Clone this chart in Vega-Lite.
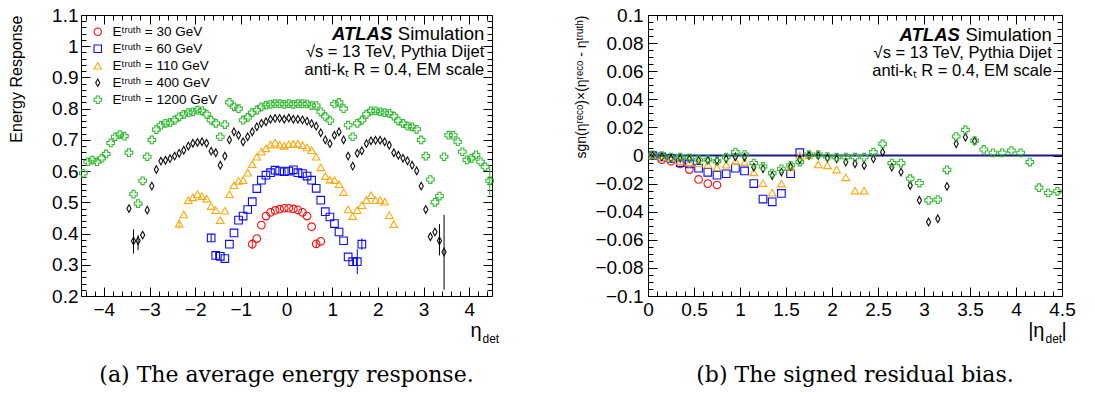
{
"$schema": "https://vega.github.io/schema/vega-lite/v6.json",
"background": "white",
"padding": {"left": 8, "top": 5, "right": 5, "bottom": 5},
"spacing": 74,
"config": {
  "view": {"stroke": "#000", "strokeWidth": 1},
  "font": "Liberation Sans",
  "axis": {"domain": false, "grid": false, "labelFont": "Liberation Sans", "labelFontSize": 19, "labelColor": "#000", "tickColor": "#000", "tickWidth": 1, "titleFont": "Liberation Sans", "titleFontWeight": "normal", "titleFontSize": 16, "titleColor": "#000", "labelFlush": false, "labelOverlap": false},
  "legend": {"labelFont": "Liberation Sans", "labelFontSize": 13.5, "labelColor": "#000"}
},
"datasets": {
"resp": [
{"E":"30 GeV","eta":-0.75,"r":0.366,"lo":0.350,"hi":0.382},
{"E":"30 GeV","eta":-0.65,"r":0.384},
{"E":"30 GeV","eta":-0.55,"r":0.427},
{"E":"30 GeV","eta":-0.45,"r":0.456},
{"E":"30 GeV","eta":-0.35,"r":0.468},
{"E":"30 GeV","eta":-0.25,"r":0.474},
{"E":"30 GeV","eta":-0.15,"r":0.478},
{"E":"30 GeV","eta":-0.05,"r":0.481},
{"E":"30 GeV","eta":0.05,"r":0.481},
{"E":"30 GeV","eta":0.15,"r":0.479},
{"E":"30 GeV","eta":0.25,"r":0.476},
{"E":"30 GeV","eta":0.35,"r":0.468},
{"E":"30 GeV","eta":0.45,"r":0.456},
{"E":"30 GeV","eta":0.55,"r":0.422},
{"E":"30 GeV","eta":0.65,"r":0.367,"lo":0.355,"hi":0.379},
{"E":"30 GeV","eta":0.75,"r":0.375},
{"E":"60 GeV","eta":-1.65,"r":0.386,"lo":0.374,"hi":0.398},
{"E":"60 GeV","eta":-1.55,"r":0.330,"lo":0.316,"hi":0.344},
{"E":"60 GeV","eta":-1.45,"r":0.327},
{"E":"60 GeV","eta":-1.35,"r":0.320},
{"E":"60 GeV","eta":-1.25,"r":0.366},
{"E":"60 GeV","eta":-1.15,"r":0.402},
{"E":"60 GeV","eta":-1.05,"r":0.443},
{"E":"60 GeV","eta":-0.95,"r":0.456},
{"E":"60 GeV","eta":-0.85,"r":0.477},
{"E":"60 GeV","eta":-0.75,"r":0.502},
{"E":"60 GeV","eta":-0.65,"r":0.544},
{"E":"60 GeV","eta":-0.55,"r":0.571},
{"E":"60 GeV","eta":-0.45,"r":0.587},
{"E":"60 GeV","eta":-0.35,"r":0.595},
{"E":"60 GeV","eta":-0.25,"r":0.603},
{"E":"60 GeV","eta":-0.15,"r":0.600},
{"E":"60 GeV","eta":-0.05,"r":0.598},
{"E":"60 GeV","eta":0.05,"r":0.600},
{"E":"60 GeV","eta":0.15,"r":0.604},
{"E":"60 GeV","eta":0.25,"r":0.595},
{"E":"60 GeV","eta":0.35,"r":0.592},
{"E":"60 GeV","eta":0.45,"r":0.584},
{"E":"60 GeV","eta":0.55,"r":0.571},
{"E":"60 GeV","eta":0.65,"r":0.545},
{"E":"60 GeV","eta":0.75,"r":0.507},
{"E":"60 GeV","eta":0.85,"r":0.470},
{"E":"60 GeV","eta":0.95,"r":0.453},
{"E":"60 GeV","eta":1.05,"r":0.432},
{"E":"60 GeV","eta":1.15,"r":0.405},
{"E":"60 GeV","eta":1.25,"r":0.377},
{"E":"60 GeV","eta":1.35,"r":0.325},
{"E":"60 GeV","eta":1.45,"r":0.310,"lo":0.298,"hi":0.322},
{"E":"60 GeV","eta":1.55,"r":0.310,"lo":0.270,"hi":0.350},
{"E":"60 GeV","eta":1.65,"r":0.366,"lo":0.348,"hi":0.384},
{"E":"110 GeV","eta":-2.35,"r":0.432,"lo":0.415,"hi":0.448},
{"E":"110 GeV","eta":-2.25,"r":0.461},
{"E":"110 GeV","eta":-2.15,"r":0.507},
{"E":"110 GeV","eta":-2.05,"r":0.516},
{"E":"110 GeV","eta":-1.95,"r":0.526},
{"E":"110 GeV","eta":-1.85,"r":0.520},
{"E":"110 GeV","eta":-1.75,"r":0.512},
{"E":"110 GeV","eta":-1.65,"r":0.488},
{"E":"110 GeV","eta":-1.55,"r":0.475},
{"E":"110 GeV","eta":-1.45,"r":0.443},
{"E":"110 GeV","eta":-1.35,"r":0.473},
{"E":"110 GeV","eta":-1.25,"r":0.526},
{"E":"110 GeV","eta":-1.15,"r":0.555},
{"E":"110 GeV","eta":-1.05,"r":0.569},
{"E":"110 GeV","eta":-0.95,"r":0.571},
{"E":"110 GeV","eta":-0.85,"r":0.595},
{"E":"110 GeV","eta":-0.75,"r":0.622},
{"E":"110 GeV","eta":-0.65,"r":0.646},
{"E":"110 GeV","eta":-0.55,"r":0.662},
{"E":"110 GeV","eta":-0.45,"r":0.673},
{"E":"110 GeV","eta":-0.35,"r":0.685},
{"E":"110 GeV","eta":-0.25,"r":0.691},
{"E":"110 GeV","eta":-0.15,"r":0.685},
{"E":"110 GeV","eta":-0.05,"r":0.681},
{"E":"110 GeV","eta":0.05,"r":0.686},
{"E":"110 GeV","eta":0.15,"r":0.687},
{"E":"110 GeV","eta":0.25,"r":0.688},
{"E":"110 GeV","eta":0.35,"r":0.683},
{"E":"110 GeV","eta":0.45,"r":0.676},
{"E":"110 GeV","eta":0.55,"r":0.667},
{"E":"110 GeV","eta":0.65,"r":0.646},
{"E":"110 GeV","eta":0.75,"r":0.612},
{"E":"110 GeV","eta":0.85,"r":0.584},
{"E":"110 GeV","eta":0.95,"r":0.573},
{"E":"110 GeV","eta":1.05,"r":0.571},
{"E":"110 GeV","eta":1.15,"r":0.558},
{"E":"110 GeV","eta":1.25,"r":0.533},
{"E":"110 GeV","eta":1.35,"r":0.477},
{"E":"110 GeV","eta":1.45,"r":0.456},
{"E":"110 GeV","eta":1.55,"r":0.475},
{"E":"110 GeV","eta":1.65,"r":0.491},
{"E":"110 GeV","eta":1.75,"r":0.507},
{"E":"110 GeV","eta":1.85,"r":0.523},
{"E":"110 GeV","eta":1.95,"r":0.507},
{"E":"110 GeV","eta":2.05,"r":0.507},
{"E":"110 GeV","eta":2.15,"r":0.502},
{"E":"110 GeV","eta":2.25,"r":0.459},
{"E":"110 GeV","eta":2.35,"r":0.430},
{"E":"400 GeV","eta":-3.45,"r":0.480},
{"E":"400 GeV","eta":-3.35,"r":0.376,"lo":0.336,"hi":0.413},
{"E":"400 GeV","eta":-3.25,"r":0.377,"lo":0.347,"hi":0.395},
{"E":"400 GeV","eta":-3.15,"r":0.395},
{"E":"400 GeV","eta":-3.05,"r":0.475},
{"E":"400 GeV","eta":-2.95,"r":0.552},
{"E":"400 GeV","eta":-2.85,"r":0.605},
{"E":"400 GeV","eta":-2.75,"r":0.632},
{"E":"400 GeV","eta":-2.65,"r":0.635},
{"E":"400 GeV","eta":-2.55,"r":0.640},
{"E":"400 GeV","eta":-2.45,"r":0.648},
{"E":"400 GeV","eta":-2.35,"r":0.657},
{"E":"400 GeV","eta":-2.25,"r":0.667},
{"E":"400 GeV","eta":-2.15,"r":0.680},
{"E":"400 GeV","eta":-2.05,"r":0.689},
{"E":"400 GeV","eta":-1.95,"r":0.692},
{"E":"400 GeV","eta":-1.85,"r":0.694},
{"E":"400 GeV","eta":-1.75,"r":0.689},
{"E":"400 GeV","eta":-1.65,"r":0.664},
{"E":"400 GeV","eta":-1.55,"r":0.659},
{"E":"400 GeV","eta":-1.45,"r":0.619},
{"E":"400 GeV","eta":-1.35,"r":0.648},
{"E":"400 GeV","eta":-1.25,"r":0.700},
{"E":"400 GeV","eta":-1.15,"r":0.726},
{"E":"400 GeV","eta":-1.05,"r":0.715},
{"E":"400 GeV","eta":-0.95,"r":0.694},
{"E":"400 GeV","eta":-0.85,"r":0.710},
{"E":"400 GeV","eta":-0.75,"r":0.726},
{"E":"400 GeV","eta":-0.65,"r":0.742},
{"E":"400 GeV","eta":-0.55,"r":0.753},
{"E":"400 GeV","eta":-0.45,"r":0.758},
{"E":"400 GeV","eta":-0.35,"r":0.766},
{"E":"400 GeV","eta":-0.25,"r":0.769},
{"E":"400 GeV","eta":-0.15,"r":0.769},
{"E":"400 GeV","eta":-0.05,"r":0.766},
{"E":"400 GeV","eta":0.05,"r":0.770},
{"E":"400 GeV","eta":0.15,"r":0.766},
{"E":"400 GeV","eta":0.25,"r":0.766},
{"E":"400 GeV","eta":0.35,"r":0.764},
{"E":"400 GeV","eta":0.45,"r":0.760},
{"E":"400 GeV","eta":0.55,"r":0.752},
{"E":"400 GeV","eta":0.65,"r":0.744},
{"E":"400 GeV","eta":0.75,"r":0.723},
{"E":"400 GeV","eta":0.85,"r":0.700},
{"E":"400 GeV","eta":0.95,"r":0.688},
{"E":"400 GeV","eta":1.05,"r":0.715},
{"E":"400 GeV","eta":1.15,"r":0.726},
{"E":"400 GeV","eta":1.25,"r":0.700},
{"E":"400 GeV","eta":1.35,"r":0.648},
{"E":"400 GeV","eta":1.45,"r":0.616},
{"E":"400 GeV","eta":1.55,"r":0.657},
{"E":"400 GeV","eta":1.65,"r":0.665},
{"E":"400 GeV","eta":1.75,"r":0.688},
{"E":"400 GeV","eta":1.85,"r":0.697},
{"E":"400 GeV","eta":1.95,"r":0.699},
{"E":"400 GeV","eta":2.05,"r":0.699},
{"E":"400 GeV","eta":2.15,"r":0.694},
{"E":"400 GeV","eta":2.25,"r":0.683},
{"E":"400 GeV","eta":2.35,"r":0.659},
{"E":"400 GeV","eta":2.45,"r":0.651},
{"E":"400 GeV","eta":2.55,"r":0.641},
{"E":"400 GeV","eta":2.65,"r":0.633},
{"E":"400 GeV","eta":2.75,"r":0.619},
{"E":"400 GeV","eta":2.85,"r":0.601},
{"E":"400 GeV","eta":2.95,"r":0.552},
{"E":"400 GeV","eta":3.05,"r":0.477},
{"E":"400 GeV","eta":3.15,"r":0.390},
{"E":"400 GeV","eta":3.25,"r":0.405},
{"E":"400 GeV","eta":3.35,"r":0.377,"lo":0.330,"hi":0.430},
{"E":"400 GeV","eta":3.45,"r":0.341,"lo":0.220,"hi":0.460},
{"E":"1200 GeV","eta":-4.45,"r":0.593},
{"E":"1200 GeV","eta":-4.35,"r":0.630},
{"E":"1200 GeV","eta":-4.25,"r":0.635},
{"E":"1200 GeV","eta":-4.15,"r":0.630},
{"E":"1200 GeV","eta":-4.05,"r":0.641},
{"E":"1200 GeV","eta":-3.95,"r":0.655},
{"E":"1200 GeV","eta":-3.85,"r":0.690},
{"E":"1200 GeV","eta":-3.75,"r":0.710},
{"E":"1200 GeV","eta":-3.65,"r":0.717},
{"E":"1200 GeV","eta":-3.55,"r":0.712},
{"E":"1200 GeV","eta":-3.45,"r":0.659},
{"E":"1200 GeV","eta":-3.35,"r":0.526},
{"E":"1200 GeV","eta":-3.25,"r":0.496},
{"E":"1200 GeV","eta":-3.15,"r":0.569},
{"E":"1200 GeV","eta":-3.05,"r":0.646},
{"E":"1200 GeV","eta":-2.95,"r":0.700},
{"E":"1200 GeV","eta":-2.85,"r":0.733},
{"E":"1200 GeV","eta":-2.75,"r":0.747},
{"E":"1200 GeV","eta":-2.65,"r":0.753},
{"E":"1200 GeV","eta":-2.55,"r":0.755},
{"E":"1200 GeV","eta":-2.45,"r":0.763},
{"E":"1200 GeV","eta":-2.35,"r":0.774},
{"E":"1200 GeV","eta":-2.25,"r":0.782},
{"E":"1200 GeV","eta":-2.15,"r":0.787},
{"E":"1200 GeV","eta":-2.05,"r":0.790},
{"E":"1200 GeV","eta":-1.95,"r":0.795},
{"E":"1200 GeV","eta":-1.85,"r":0.793},
{"E":"1200 GeV","eta":-1.75,"r":0.782},
{"E":"1200 GeV","eta":-1.65,"r":0.763},
{"E":"1200 GeV","eta":-1.55,"r":0.753},
{"E":"1200 GeV","eta":-1.45,"r":0.710},
{"E":"1200 GeV","eta":-1.35,"r":0.749},
{"E":"1200 GeV","eta":-1.25,"r":0.820},
{"E":"1200 GeV","eta":-1.15,"r":0.806},
{"E":"1200 GeV","eta":-1.05,"r":0.800},
{"E":"1200 GeV","eta":-0.95,"r":0.763},
{"E":"1200 GeV","eta":-0.85,"r":0.772},
{"E":"1200 GeV","eta":-0.75,"r":0.787},
{"E":"1200 GeV","eta":-0.65,"r":0.795},
{"E":"1200 GeV","eta":-0.55,"r":0.806},
{"E":"1200 GeV","eta":-0.45,"r":0.811},
{"E":"1200 GeV","eta":-0.35,"r":0.814},
{"E":"1200 GeV","eta":-0.25,"r":0.816},
{"E":"1200 GeV","eta":-0.15,"r":0.816},
{"E":"1200 GeV","eta":-0.05,"r":0.814},
{"E":"1200 GeV","eta":0.05,"r":0.816},
{"E":"1200 GeV","eta":0.15,"r":0.814},
{"E":"1200 GeV","eta":0.25,"r":0.816},
{"E":"1200 GeV","eta":0.35,"r":0.816},
{"E":"1200 GeV","eta":0.45,"r":0.815},
{"E":"1200 GeV","eta":0.55,"r":0.810},
{"E":"1200 GeV","eta":0.65,"r":0.810},
{"E":"1200 GeV","eta":0.75,"r":0.790},
{"E":"1200 GeV","eta":0.85,"r":0.775},
{"E":"1200 GeV","eta":0.95,"r":0.762},
{"E":"1200 GeV","eta":1.05,"r":0.815},
{"E":"1200 GeV","eta":1.15,"r":0.820},
{"E":"1200 GeV","eta":1.25,"r":0.800},
{"E":"1200 GeV","eta":1.35,"r":0.747},
{"E":"1200 GeV","eta":1.45,"r":0.710},
{"E":"1200 GeV","eta":1.55,"r":0.753},
{"E":"1200 GeV","eta":1.65,"r":0.763},
{"E":"1200 GeV","eta":1.75,"r":0.782},
{"E":"1200 GeV","eta":1.85,"r":0.793},
{"E":"1200 GeV","eta":1.95,"r":0.793},
{"E":"1200 GeV","eta":2.05,"r":0.790},
{"E":"1200 GeV","eta":2.15,"r":0.787},
{"E":"1200 GeV","eta":2.25,"r":0.785},
{"E":"1200 GeV","eta":2.35,"r":0.776},
{"E":"1200 GeV","eta":2.45,"r":0.761},
{"E":"1200 GeV","eta":2.55,"r":0.753},
{"E":"1200 GeV","eta":2.65,"r":0.744},
{"E":"1200 GeV","eta":2.75,"r":0.742},
{"E":"1200 GeV","eta":2.85,"r":0.734},
{"E":"1200 GeV","eta":2.95,"r":0.700},
{"E":"1200 GeV","eta":3.05,"r":0.648},
{"E":"1200 GeV","eta":3.15,"r":0.573},
{"E":"1200 GeV","eta":3.25,"r":0.500},
{"E":"1200 GeV","eta":3.35,"r":0.520},
{"E":"1200 GeV","eta":3.45,"r":0.646},
{"E":"1200 GeV","eta":3.55,"r":0.715},
{"E":"1200 GeV","eta":3.65,"r":0.715},
{"E":"1200 GeV","eta":3.75,"r":0.694},
{"E":"1200 GeV","eta":3.85,"r":0.662},
{"E":"1200 GeV","eta":3.95,"r":0.636},
{"E":"1200 GeV","eta":4.05,"r":0.641},
{"E":"1200 GeV","eta":4.15,"r":0.652},
{"E":"1200 GeV","eta":4.25,"r":0.630},
{"E":"1200 GeV","eta":4.35,"r":0.614},
{"E":"1200 GeV","eta":4.45,"r":0.569,"lo":0.522,"hi":0.614}
],
"bias": [
{"E":"30 GeV","eta":0.05,"b":0.000},
{"E":"30 GeV","eta":0.15,"b":-0.003},
{"E":"30 GeV","eta":0.25,"b":-0.004},
{"E":"30 GeV","eta":0.35,"b":-0.006},
{"E":"30 GeV","eta":0.45,"b":-0.010},
{"E":"30 GeV","eta":0.55,"b":-0.017},
{"E":"30 GeV","eta":0.65,"b":-0.020},
{"E":"30 GeV","eta":0.75,"b":-0.021},
{"E":"60 GeV","eta":0.05,"b":0.000},
{"E":"60 GeV","eta":0.15,"b":-0.001},
{"E":"60 GeV","eta":0.25,"b":-0.002},
{"E":"60 GeV","eta":0.35,"b":-0.005},
{"E":"60 GeV","eta":0.45,"b":-0.006},
{"E":"60 GeV","eta":0.55,"b":-0.009},
{"E":"60 GeV","eta":0.65,"b":-0.012},
{"E":"60 GeV","eta":0.75,"b":-0.014},
{"E":"60 GeV","eta":0.85,"b":-0.013},
{"E":"60 GeV","eta":0.95,"b":-0.009},
{"E":"60 GeV","eta":1.05,"b":-0.011},
{"E":"60 GeV","eta":1.15,"b":-0.020},
{"E":"60 GeV","eta":1.25,"b":-0.031},
{"E":"60 GeV","eta":1.35,"b":-0.033},
{"E":"60 GeV","eta":1.45,"b":-0.027},
{"E":"60 GeV","eta":1.55,"b":-0.013},
{"E":"60 GeV","eta":1.65,"b":0.002},
{"E":"110 GeV","eta":0.05,"b":0.000},
{"E":"110 GeV","eta":0.15,"b":-0.001},
{"E":"110 GeV","eta":0.25,"b":-0.002},
{"E":"110 GeV","eta":0.35,"b":-0.004},
{"E":"110 GeV","eta":0.45,"b":-0.005},
{"E":"110 GeV","eta":0.55,"b":-0.0055},
{"E":"110 GeV","eta":0.65,"b":-0.0065},
{"E":"110 GeV","eta":0.75,"b":-0.0085},
{"E":"110 GeV","eta":0.85,"b":-0.0065},
{"E":"110 GeV","eta":0.95,"b":-0.004},
{"E":"110 GeV","eta":1.05,"b":-0.0047},
{"E":"110 GeV","eta":1.15,"b":-0.012},
{"E":"110 GeV","eta":1.25,"b":-0.0196},
{"E":"110 GeV","eta":1.35,"b":-0.0265},
{"E":"110 GeV","eta":1.45,"b":-0.020},
{"E":"110 GeV","eta":1.55,"b":-0.0085},
{"E":"110 GeV","eta":1.65,"b":0.000},
{"E":"110 GeV","eta":1.75,"b":0.000},
{"E":"110 GeV","eta":1.85,"b":-0.0064},
{"E":"110 GeV","eta":1.95,"b":-0.007},
{"E":"110 GeV","eta":2.05,"b":-0.010},
{"E":"110 GeV","eta":2.15,"b":-0.0155},
{"E":"110 GeV","eta":2.25,"b":-0.025},
{"E":"110 GeV","eta":2.35,"b":-0.025},
{"E":"400 GeV","eta":0.05,"b":0.000},
{"E":"400 GeV","eta":0.15,"b":-0.001},
{"E":"400 GeV","eta":0.25,"b":-0.002},
{"E":"400 GeV","eta":0.35,"b":-0.002},
{"E":"400 GeV","eta":0.45,"b":-0.0024},
{"E":"400 GeV","eta":0.55,"b":-0.0035},
{"E":"400 GeV","eta":0.65,"b":-0.0035},
{"E":"400 GeV","eta":0.75,"b":-0.0035},
{"E":"400 GeV","eta":0.85,"b":-0.0024},
{"E":"400 GeV","eta":0.95,"b":-0.001},
{"E":"400 GeV","eta":1.05,"b":-0.0012},
{"E":"400 GeV","eta":1.15,"b":-0.0083},
{"E":"400 GeV","eta":1.25,"b":-0.0095},
{"E":"400 GeV","eta":1.35,"b":-0.0142},
{"E":"400 GeV","eta":1.45,"b":-0.0118},
{"E":"400 GeV","eta":1.55,"b":-0.0078},
{"E":"400 GeV","eta":1.65,"b":-0.003},
{"E":"400 GeV","eta":1.75,"b":0.000},
{"E":"400 GeV","eta":1.85,"b":0.000},
{"E":"400 GeV","eta":1.95,"b":-0.0017},
{"E":"400 GeV","eta":2.05,"b":-0.0024},
{"E":"400 GeV","eta":2.15,"b":-0.0047},
{"E":"400 GeV","eta":2.25,"b":-0.0059},
{"E":"400 GeV","eta":2.35,"b":-0.0071},
{"E":"400 GeV","eta":2.45,"b":-0.0024},
{"E":"400 GeV","eta":2.55,"b":0.0024},
{"E":"400 GeV","eta":2.65,"b":-0.0083},
{"E":"400 GeV","eta":2.75,"b":-0.0118},
{"E":"400 GeV","eta":2.85,"b":-0.0213},
{"E":"400 GeV","eta":2.95,"b":-0.0319},
{"E":"400 GeV","eta":3.05,"b":-0.0473},
{"E":"400 GeV","eta":3.15,"b":-0.045},
{"E":"400 GeV","eta":3.25,"b":-0.022},
{"E":"400 GeV","eta":3.35,"b":0.0083},
{"E":"400 GeV","eta":3.45,"b":0.013},
{"E":"400 GeV","eta":3.55,"b":0.0102},
{"E":"1200 GeV","eta":0.05,"b":0.0005},
{"E":"1200 GeV","eta":0.15,"b":0.000},
{"E":"1200 GeV","eta":0.25,"b":-0.0012},
{"E":"1200 GeV","eta":0.35,"b":-0.0012},
{"E":"1200 GeV","eta":0.45,"b":-0.0017},
{"E":"1200 GeV","eta":0.55,"b":-0.003},
{"E":"1200 GeV","eta":0.65,"b":-0.003},
{"E":"1200 GeV","eta":0.75,"b":-0.004},
{"E":"1200 GeV","eta":0.85,"b":-0.0012},
{"E":"1200 GeV","eta":0.95,"b":0.0024},
{"E":"1200 GeV","eta":1.05,"b":0.0007},
{"E":"1200 GeV","eta":1.15,"b":-0.0054},
{"E":"1200 GeV","eta":1.25,"b":-0.0078},
{"E":"1200 GeV","eta":1.35,"b":-0.0125},
{"E":"1200 GeV","eta":1.45,"b":-0.0095},
{"E":"1200 GeV","eta":1.55,"b":-0.007},
{"E":"1200 GeV","eta":1.65,"b":-0.0047},
{"E":"1200 GeV","eta":1.75,"b":0.0007},
{"E":"1200 GeV","eta":1.85,"b":0.0007},
{"E":"1200 GeV","eta":1.95,"b":-0.0007},
{"E":"1200 GeV","eta":2.05,"b":-0.0012},
{"E":"1200 GeV","eta":2.15,"b":-0.0012},
{"E":"1200 GeV","eta":2.25,"b":-0.0012},
{"E":"1200 GeV","eta":2.35,"b":-0.0012},
{"E":"1200 GeV","eta":2.45,"b":0.0024},
{"E":"1200 GeV","eta":2.55,"b":0.0083},
{"E":"1200 GeV","eta":2.65,"b":-0.0054},
{"E":"1200 GeV","eta":2.75,"b":-0.0054},
{"E":"1200 GeV","eta":2.85,"b":-0.0165},
{"E":"1200 GeV","eta":2.95,"b":-0.0196},
{"E":"1200 GeV","eta":3.05,"b":-0.0319},
{"E":"1200 GeV","eta":3.15,"b":-0.0314},
{"E":"1200 GeV","eta":3.25,"b":-0.0102},
{"E":"1200 GeV","eta":3.35,"b":0.0135},
{"E":"1200 GeV","eta":3.45,"b":0.0182},
{"E":"1200 GeV","eta":3.55,"b":0.0106},
{"E":"1200 GeV","eta":3.65,"b":0.0043},
{"E":"1200 GeV","eta":3.75,"b":0.0019},
{"E":"1200 GeV","eta":3.85,"b":0.0019},
{"E":"1200 GeV","eta":3.95,"b":0.0035},
{"E":"1200 GeV","eta":4.05,"b":0.0019},
{"E":"1200 GeV","eta":4.15,"b":-0.0047},
{"E":"1200 GeV","eta":4.25,"b":-0.0229},
{"E":"1200 GeV","eta":4.35,"b":-0.0267},
{"E":"1200 GeV","eta":4.45,"b":-0.0255}
]
},
"hconcat": [
{
  "width": 411, "height": 281,
  "title": {"text": "(a) The average energy response.", "orient": "bottom", "frame": "group", "anchor": "middle", "font": "DejaVu Serif", "fontSize": 22, "fontWeight": "normal", "color": "#000", "offset": 21},
  "resolve": {"axis": {"x": "independent", "y": "independent"}},
  "layer": [
    {
      "data": {"name": "resp"},
      "mark": {"type": "point", "filled": false, "strokeWidth": 1.1, "size": 58, "opacity": 0.95},
      "encoding": {
        "x": {"field": "eta", "type": "quantitative", "scale": {"domain": [-4.5, 4.5], "nice": false, "zero": false},
              "axis": {"orient": "bottom", "values": [-4,-3,-2,-1,0,1,2,3,4], "format": "~g", "tickSize": -9, "labelPadding": 13, "title": "η", "titleFontSize": 20, "titleAlign": "right", "titleBaseline": "alphabetic", "titleX": 400, "titleY": 40}},
        "y": {"field": "r", "type": "quantitative", "scale": {"domain": [0.2, 1.1], "nice": false, "zero": false},
              "axis": {"orient": "left", "values": [0.2,0.3,0.4,0.5,0.6,0.7,0.8,0.9,1,1.1], "format": "~g", "tickSize": -9, "labelPadding": 12, "title": "Energy Response", "titleAnchor": "end", "titlePadding": 27}},
        "color": {"field": "E", "type": "nominal", "scale": {"domain": ["30 GeV","60 GeV","110 GeV","400 GeV","1200 GeV"], "range": ["#ff0000","#0000ff","#ffa500","#000000","#2db82d"]},
                  "legend": {"title": null, "orient": "top-left", "offset": 10, "padding": 0, "labelExpr": "'Eᵗʳᵘᵗʰ = ' + datum.label", "symbolSize": 55, "symbolStrokeWidth": 1.1, "rowPadding": 2, "labelOffset": 8}},
        "shape": {"field": "E", "type": "nominal", "scale": {"domain": ["30 GeV","60 GeV","110 GeV","400 GeV","1200 GeV"], "range": ["circle","square","triangle-up","M0,-1L0.55,0L0,1L-0.55,0Z","cross"]},
                  "legend": {"title": null, "orient": "top-left", "offset": 10, "padding": 0, "labelExpr": "'Eᵗʳᵘᵗʰ = ' + datum.label", "symbolSize": 55, "symbolStrokeWidth": 1.1, "rowPadding": 2, "labelOffset": 8}}
      }
    },
    {
      "data": {"name": "resp"},
      "transform": [{"filter": "isValid(datum.lo)"}],
      "mark": {"type": "rule", "strokeWidth": 1},
      "encoding": {
        "x": {"field": "eta", "type": "quantitative",
              "axis": {"orient": "bottom", "values": [-4.4,-4.2,-3.8,-3.6,-3.4,-3.2,-2.8,-2.6,-2.4,-2.2,-1.8,-1.6,-1.4,-1.2,-0.8,-0.6,-0.4,-0.2,0.2,0.4,0.6,0.8,1.2,1.4,1.6,1.8,2.2,2.4,2.6,2.8,3.2,3.4,3.6,3.8,4.2,4.4], "tickSize": -5, "labels": false, "title": "det", "titleFontSize": 12, "titleAlign": "left", "titleBaseline": "alphabetic", "titleX": 401, "titleY": 46}},
        "y": {"field": "lo", "type": "quantitative",
              "axis": {"orient": "left", "values": [0.22,0.24,0.26,0.28,0.32,0.34,0.36,0.38,0.42,0.44,0.46,0.48,0.52,0.54,0.56,0.58,0.62,0.64,0.66,0.68,0.72,0.74,0.76,0.78,0.82,0.84,0.86,0.88,0.92,0.94,0.96,0.98,1.02,1.04,1.06,1.08], "tickSize": -5, "labels": false, "title": null}},
        "y2": {"field": "hi"},
        "color": {"field": "E", "type": "nominal", "legend": null}
      }
    },
    {
      "data": {"values": [{}]},
      "mark": {"type": "text", "text": "ATLAS", "font": "Liberation Sans", "fontStyle": "italic", "fontWeight": "bold", "fontSize": 18.5, "align": "right", "baseline": "alphabetic", "dx": -92, "color": "#000"},
      "encoding": {
        "x": {"datum": 4.33, "axis": {"orient": "top", "values": [-4,-3,-2,-1,0,1,2,3,4], "tickSize": -9, "labels": false, "title": null}},
        "y": {"datum": 1.02, "axis": {"orient": "right", "values": [0.2,0.3,0.4,0.5,0.6,0.7,0.8,0.9,1,1.1], "tickSize": -9, "labels": false, "title": null}}
      }
    },
    {
      "data": {"values": [{}]},
      "mark": {"type": "text", "text": "Simulation", "font": "Liberation Sans", "fontSize": 18.5, "align": "right", "baseline": "alphabetic", "color": "#000"},
      "encoding": {
        "x": {"datum": 4.33, "axis": {"orient": "top", "values": [-4.4,-4.2,-3.8,-3.6,-3.4,-3.2,-2.8,-2.6,-2.4,-2.2,-1.8,-1.6,-1.4,-1.2,-0.8,-0.6,-0.4,-0.2,0.2,0.4,0.6,0.8,1.2,1.4,1.6,1.8,2.2,2.4,2.6,2.8,3.2,3.4,3.6,3.8,4.2,4.4], "tickSize": -5, "labels": false, "title": null}},
        "y": {"datum": 1.02, "axis": {"orient": "right", "values": [0.22,0.24,0.26,0.28,0.32,0.34,0.36,0.38,0.42,0.44,0.46,0.48,0.52,0.54,0.56,0.58,0.62,0.64,0.66,0.68,0.72,0.74,0.76,0.78,0.82,0.84,0.86,0.88,0.92,0.94,0.96,0.98,1.02,1.04,1.06,1.08], "tickSize": -5, "labels": false, "title": null}}
      }
    },
    {
      "data": {"values": [{}]},
      "mark": {"type": "text", "text": "√s = 13 TeV, Pythia Dijet", "font": "Liberation Sans", "fontSize": 16.5, "align": "right", "baseline": "alphabetic", "color": "#000"},
      "encoding": {"x": {"datum": 4.33, "axis": null}, "y": {"datum": 0.965, "axis": null}}
    },
    {
      "data": {"values": [{}]},
      "mark": {"type": "text", "text": "anti-kₜ R = 0.4, EM scale", "font": "Liberation Sans", "fontSize": 16.5, "align": "right", "baseline": "alphabetic", "color": "#000"},
      "encoding": {"x": {"datum": 4.33, "axis": null}, "y": {"datum": 0.908, "axis": null}}
    }
  ]
},
{
  "width": 414, "height": 281,
  "title": {"text": "(b) The signed residual bias.", "orient": "bottom", "frame": "group", "anchor": "middle", "font": "DejaVu Serif", "fontSize": 22, "fontWeight": "normal", "color": "#000", "offset": 21},
  "resolve": {"axis": {"x": "independent", "y": "independent"}},
  "layer": [
    {
      "data": {"values": [{}]},
      "mark": {"type": "rule", "color": "#1a1a8c", "strokeWidth": 2},
      "encoding": {"y": {"datum": 0, "axis": null}}
    },
    {
      "data": {"name": "bias"},
      "mark": {"type": "point", "filled": false, "strokeWidth": 1.1, "size": 58, "opacity": 0.95},
      "encoding": {
        "x": {"field": "eta", "type": "quantitative", "scale": {"domain": [0, 4.5], "nice": false, "zero": false},
              "axis": {"orient": "bottom", "values": [0,0.5,1,1.5,2,2.5,3,3.5,4,4.5], "format": "~g", "tickSize": -9, "labelPadding": 13, "title": "|η", "titleFontSize": 20, "titleAlign": "right", "titleBaseline": "alphabetic", "titleX": 396, "titleY": 40}},
        "y": {"field": "b", "type": "quantitative", "scale": {"domain": [-0.1, 0.1], "nice": false, "zero": false},
              "axis": {"orient": "left", "values": [-0.1,-0.08,-0.06,-0.04,-0.02,0,0.02,0.04,0.06,0.08,0.1], "format": "~g", "tickSize": -9, "labelPadding": 14, "title": "sgn(ηʳᵉᶜᵒ)×(ηʳᵉᶜᵒ - ηᵗʳᵘᵗʰ)", "titleFontSize": 14, "titleAnchor": "end", "titlePadding": 6}},
        "color": {"field": "E", "type": "nominal", "scale": {"domain": ["30 GeV","60 GeV","110 GeV","400 GeV","1200 GeV"], "range": ["#ff0000","#0000ff","#ffa500","#000000","#2db82d"]},
                  "legend": {"title": null, "orient": "top-left", "offset": 13, "padding": 0, "labelExpr": "'Eᵗʳᵘᵗʰ = ' + datum.label", "symbolSize": 55, "symbolStrokeWidth": 1.1, "rowPadding": 2, "labelOffset": 8}},
        "shape": {"field": "E", "type": "nominal", "scale": {"domain": ["30 GeV","60 GeV","110 GeV","400 GeV","1200 GeV"], "range": ["circle","square","triangle-up","M0,-1L0.55,0L0,1L-0.55,0Z","cross"]},
                  "legend": {"title": null, "orient": "top-left", "offset": 13, "padding": 0, "labelExpr": "'Eᵗʳᵘᵗʰ = ' + datum.label", "symbolSize": 55, "symbolStrokeWidth": 1.1, "rowPadding": 2, "labelOffset": 8}}
      }
    },
    {
      "data": {"values": [{}]},
      "mark": {"type": "text", "text": "ATLAS", "font": "Liberation Sans", "fontStyle": "italic", "fontWeight": "bold", "fontSize": 18.5, "align": "right", "baseline": "alphabetic", "dx": -92, "color": "#000"},
      "encoding": {
        "x": {"datum": 4.39, "axis": {"orient": "top", "values": [0,0.5,1,1.5,2,2.5,3,3.5,4,4.5], "tickSize": -9, "labels": false, "title": null}},
        "y": {"datum": 0.0816, "axis": {"orient": "right", "values": [-0.1,-0.08,-0.06,-0.04,-0.02,0,0.02,0.04,0.06,0.08,0.1], "tickSize": -9, "labels": false, "title": null}}
      }
    },
    {
      "data": {"values": [{}]},
      "mark": {"type": "text", "text": "Simulation", "font": "Liberation Sans", "fontSize": 18.5, "align": "right", "baseline": "alphabetic", "color": "#000"},
      "encoding": {
        "x": {"datum": 4.39, "axis": {"orient": "top", "values": [0.1,0.2,0.3,0.4,0.6,0.7,0.8,0.9,1.1,1.2,1.3,1.4,1.6,1.7,1.8,1.9,2.1,2.2,2.3,2.4,2.6,2.7,2.8,2.9,3.1,3.2,3.3,3.4,3.6,3.7,3.8,3.9,4.1,4.2,4.3,4.4], "tickSize": -5, "labels": false, "title": null}},
        "y": {"datum": 0.0816, "axis": {"orient": "right", "values": [-0.095,-0.09,-0.085,-0.075,-0.07,-0.065,-0.055,-0.05,-0.045,-0.035,-0.03,-0.025,-0.015,-0.01,-0.005,0.005,0.01,0.015,0.025,0.03,0.035,0.045,0.05,0.055,0.065,0.07,0.075,0.085,0.09,0.095], "tickSize": -5, "labels": false, "title": null}}
      }
    },
    {
      "data": {"values": [{}]},
      "mark": {"type": "text", "text": "√s = 13 TeV, Pythia Dijet", "font": "Liberation Sans", "fontSize": 16.5, "align": "right", "baseline": "alphabetic", "color": "#000"},
      "encoding": {
        "x": {"datum": 4.39, "axis": {"orient": "bottom", "values": [0.1,0.2,0.3,0.4,0.6,0.7,0.8,0.9,1.1,1.2,1.3,1.4,1.6,1.7,1.8,1.9,2.1,2.2,2.3,2.4,2.6,2.7,2.8,2.9,3.1,3.2,3.3,3.4,3.6,3.7,3.8,3.9,4.1,4.2,4.3,4.4], "tickSize": -5, "labels": false, "title": "det", "titleFontSize": 12, "titleAlign": "left", "titleBaseline": "alphabetic", "titleX": 397, "titleY": 46}},
        "y": {"datum": 0.0695, "axis": {"orient": "left", "values": [-0.095,-0.09,-0.085,-0.075,-0.07,-0.065,-0.055,-0.05,-0.045,-0.035,-0.03,-0.025,-0.015,-0.01,-0.005,0.005,0.01,0.015,0.025,0.03,0.035,0.045,0.05,0.055,0.065,0.07,0.075,0.085,0.09,0.095], "tickSize": -5, "labels": false, "title": null}}
      }
    },
    {
      "data": {"values": [{}]},
      "mark": {"type": "text", "text": "anti-kₜ R = 0.4, EM scale", "font": "Liberation Sans", "fontSize": 16.5, "align": "right", "baseline": "alphabetic", "color": "#000"},
      "encoding": {
        "x": {"datum": 4.39, "axis": {"orient": "bottom", "ticks": false, "labels": false, "title": "|", "titleFontSize": 20, "titleAlign": "left", "titleBaseline": "alphabetic", "titleX": 413, "titleY": 40}},
        "y": {"datum": 0.0567, "axis": null}
      }
    }
  ]
}
]
}
